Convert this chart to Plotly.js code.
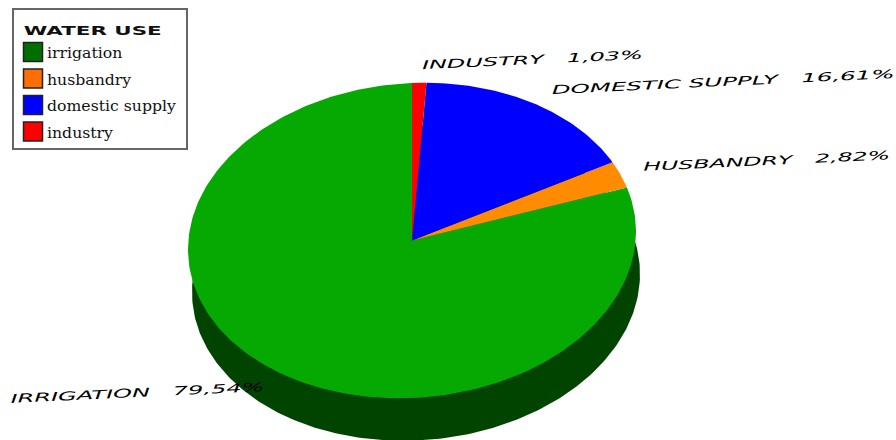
<!DOCTYPE html>
<html>
<head>
<meta charset="utf-8">
<script src="https://cdn.plot.ly/plotly-3.0.1.min.js"></script>
<style>html,body{margin:0;padding:0;background:#fff}#chart{width:896px;height:440px}</style>
</head>
<body>
<div id="chart"></div>
<script>
// Water use shares, listed in the order the legend reads
const categories = ['irrigation', 'husbandry', 'domestic supply', 'industry'];
const shares = [79.54, 2.82, 16.61, 1.03];
const sliceColors = ['#06a802', '#ff8c00', '#0000ff', '#ff0000'];
const swatchColors = ['#006e00', '#ff6e00', '#0000ff', '#ff0000'];
const legendTitle = 'WATER USE';

// Label placement: centre x, centre y, stretched width
const labelX = [137, 766, 723, 532];
const labelY = [393, 160.5, 81.5, 60];
const labelWidth = [254, 247, 343, 221];

// Tilted disc geometry, in pixels
const disc = {cx: 412, cy: 240.5, rx: 224, ry: 157.5, tilt: 0.04};
const base = {cx: 416, cy: 283};

function rim(c, deg) {
  const t = deg * Math.PI / 180;
  const dx = disc.rx * Math.sin(t);
  return [c.cx + dx, c.cy - disc.ry * Math.cos(t) - disc.tilt * dx];
}

const traces = [];

// Side wall of the disc, drawn below the top face
const wall = {x: [], y: []};
for (let d = 0; d <= 360; d++) {
  const p = rim(base, d);
  wall.x.push(p[0]);
  wall.y.push(p[1]);
}
traces.push({x: wall.x, y: wall.y, mode: 'lines', fill: 'toself', fillcolor: '#004400',
  line: {width: 0}, hoverinfo: 'skip', showlegend: false});

// Top face: slices sweep counter-clockwise from twelve o'clock
let angle = 0;
categories.forEach((name, i) => {
  const sweep = shares[i] * 3.6;
  const xs = [disc.cx], ys = [disc.cy];
  const steps = Math.max(4, Math.ceil(sweep));
  for (let s = 0; s <= steps; s++) {
    const p = rim(disc, angle - sweep * s / steps);
    xs.push(p[0]);
    ys.push(p[1]);
  }
  xs.push(disc.cx);
  ys.push(disc.cy);
  traces.push({x: xs, y: ys, name: name, mode: 'lines', fill: 'toself', fillcolor: sliceColors[i],
    line: {width: 0}, hoverinfo: 'name', showlegend: false});
  angle -= sweep;
});

// Legend rows
const rowX = categories.map(() => 33);
const rowY = categories.map((_, i) => 52 + i * 26.5);
traces.push({x: rowX, y: rowY, mode: 'markers', hoverinfo: 'skip', showlegend: false,
  marker: {symbol: 'square', size: 19, color: swatchColors, line: {color: '#222', width: 1.5}}});
traces.push({x: rowX.map(v => v + 14), y: rowY.map(v => v + 2.5), text: categories, mode: 'text', textposition: 'middle right',
  hoverinfo: 'skip', showlegend: false,
  textfont: {family: '"DejaVu Serif", serif', size: 15.7, color: '#111'}});

const annotations = categories.map((name, i) => ({
  xref: 'x', yref: 'y', x: labelX[i], y: labelY[i], showarrow: false, textangle: -2.7,
  xanchor: 'center', yanchor: 'middle',
  text: name.toUpperCase() + '\u00a0\u00a0\u00a0' + shares[i].toFixed(2).replace('.', ',') + '%',
  font: {family: '"DejaVu Sans", sans-serif', style: 'italic', size: 12, color: '#000'}
}));
annotations.push({
  xref: 'x', yref: 'y', x: 92, y: 30.5, showarrow: false, xanchor: 'center', yanchor: 'middle',
  text: '<b>' + legendTitle + '</b>',
  font: {family: '"DejaVu Sans", sans-serif', size: 12, color: '#111'}
});

const layout = {
  width: 896, height: 440, margin: {l: 0, r: 0, t: 0, b: 0},
  paper_bgcolor: '#fff', plot_bgcolor: '#fff', showlegend: false,
  xaxis: {range: [0, 896], visible: false, fixedrange: true},
  yaxis: {range: [440, 0], visible: false, fixedrange: true},
  shapes: [{type: 'rect', xref: 'x', yref: 'y', x0: 13, y0: 9, x1: 187, y1: 149,
    line: {color: '#666', width: 2}, fillcolor: 'rgba(255,255,255,0)'}],
  annotations: annotations
};

Plotly.newPlot('chart', traces, layout, {displayModeBar: false, staticPlot: true}).then(() => {
  // The wide display lettering is obtained by stretching glyphs to a set length
  const widths = labelWidth.concat([138]);
  document.querySelectorAll('#chart .annotation').forEach(node => {
    const i = +node.getAttribute('data-index');
    node.querySelectorAll('text').forEach(t => {
      t.setAttribute('textLength', widths[i]);
      t.setAttribute('lengthAdjust', 'spacingAndGlyphs');
    });
  });
});
</script>
</body>
</html>
